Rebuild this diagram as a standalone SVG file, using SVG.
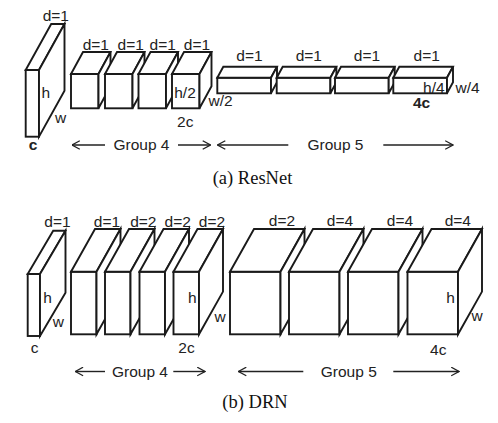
<svg xmlns="http://www.w3.org/2000/svg" width="498" height="423" viewBox="0 0 498 423">
<defs>
<style>
.bx{fill:#fff;stroke:#1a1a1a;stroke-width:1.9;stroke-linejoin:miter}
.t{font-family:"Liberation Sans",Arial,sans-serif;font-size:15.5px;fill:#222;text-anchor:middle}
.b{font-weight:bold}
.cap{font-family:"Liberation Serif","Times New Roman",serif;font-size:18.5px;fill:#111;text-anchor:middle}
.ar{stroke:#222;stroke-width:1.4;fill:none}
</style>
<marker id="ah" viewBox="0 0 9 10" refX="8.5" refY="5" markerWidth="9" markerHeight="10" markerUnits="userSpaceOnUse" orient="auto-start-reverse">
<path d="M0.7,0.7 L8.5,5 L0.7,9.3" fill="none" stroke="#222" stroke-width="1.3"/>
</marker>
</defs>
<rect width="498" height="423" fill="#fff"/>

<!-- ResNet -->
<g id="resnet-input">
<rect class="bx" x="25.7" y="70" width="13.3" height="66.7"/>
<path class="bx" d="M25.7,70 L51.2,24 L64.5,24 L39,70 Z"/>
<path class="bx" d="M39,70 L64.5,24 L64.5,90.7 L39,136.7 Z"/>
<text class="t" x="55.8" y="20.5">d=1</text>
<text class="t" x="45.8" y="98">h</text>
<text class="t" x="60.5" y="122.7">w</text>
<text class="t b" x="33" y="150">c</text>
</g>
<g id="resnet-g4-1">
<rect class="bx" x="71" y="74" width="27.5" height="34.3"/>
<path class="bx" d="M71,74 L83,52 L110.5,52 L98.5,74 Z"/>
<path class="bx" d="M98.5,74 L110.5,52 L110.5,86.3 L98.5,108.3 Z"/>
<text class="t" x="95.8" y="50">d=1</text>
</g>
<g id="resnet-g4-2">
<rect class="bx" x="105" y="74" width="27.5" height="34.3"/>
<path class="bx" d="M105,74 L117,52 L144.5,52 L132.5,74 Z"/>
<path class="bx" d="M132.5,74 L144.5,52 L144.5,86.3 L132.5,108.3 Z"/>
<text class="t" x="130.7" y="50">d=1</text>
</g>
<g id="resnet-g4-3">
<rect class="bx" x="138.5" y="74" width="27.5" height="34.3"/>
<path class="bx" d="M138.5,74 L150.5,52 L178,52 L166,74 Z"/>
<path class="bx" d="M166,74 L178,52 L178,86.3 L166,108.3 Z"/>
<text class="t" x="162.7" y="50">d=1</text>
</g>
<g id="resnet-g4-4">
<rect class="bx" x="172" y="74" width="27.5" height="34.3"/>
<path class="bx" d="M172,74 L184,52 L211.5,52 L199.5,74 Z"/>
<path class="bx" d="M199.5,74 L211.5,52 L211.5,86.3 L199.5,108.3 Z"/>
<text class="t" x="197" y="50">d=1</text>
<text class="t" x="185" y="97.5">h/2</text>
<text class="t" x="220.5" y="106">w/2</text>
<text class="t" x="185.3" y="126.7">2c</text>
</g>
<g id="resnet-g5-1">
<rect class="bx" x="217.3" y="77.7" width="53.7" height="15.6"/>
<path class="bx" d="M217.3,77.7 L223.3,66.7 L277,66.7 L271,77.7 Z"/>
<path class="bx" d="M271,77.7 L277,66.7 L277,82.3 L271,93.3 Z"/>
<text class="t" x="249.5" y="60.7">d=1</text>
</g>
<g id="resnet-g5-2">
<rect class="bx" x="276.7" y="77.7" width="53.7" height="15.6"/>
<path class="bx" d="M276.7,77.7 L282.7,66.7 L336.4,66.7 L330.4,77.7 Z"/>
<path class="bx" d="M330.4,77.7 L336.4,66.7 L336.4,82.3 L330.4,93.3 Z"/>
<text class="t" x="308.8" y="60.7">d=1</text>
</g>
<g id="resnet-g5-3">
<rect class="bx" x="335" y="77.7" width="53.7" height="15.6"/>
<path class="bx" d="M335,77.7 L341,66.7 L394.7,66.7 L388.7,77.7 Z"/>
<path class="bx" d="M388.7,77.7 L394.7,66.7 L394.7,82.3 L388.7,93.3 Z"/>
<text class="t" x="367" y="60.7">d=1</text>
</g>
<g id="resnet-g5-4">
<rect class="bx" x="393.3" y="77.7" width="53.7" height="15.6"/>
<path class="bx" d="M393.3,77.7 L399.3,66.7 L453,66.7 L447,77.7 Z"/>
<path class="bx" d="M447,77.7 L453,66.7 L453,82.3 L447,93.3 Z"/>
<text class="t" x="426.7" y="60.7">d=1</text>
<text class="t" x="433.8" y="93.3">h/4</text>
<text class="t" x="467.5" y="93.3">w/4</text>
<text class="t b" x="421.5" y="108">4c</text>
</g>
<text class="t" x="141.5" y="149.5">Group 4</text>
<text class="t" x="335.5" y="150">Group 5</text>
<text class="cap" x="252.5" y="183.5">(a) ResNet</text>

<!-- DRN -->
<g id="drn-input">
<rect class="bx" x="27.7" y="274" width="12.3" height="62"/>
<path class="bx" d="M27.7,274 L53.2,230.7 L65.5,230.7 L40,274 Z"/>
<path class="bx" d="M40,274 L65.5,230.7 L65.5,292.7 L40,336 Z"/>
<text class="t" x="57.5" y="226.7">d=1</text>
<text class="t" x="47.5" y="303.3">h</text>
<text class="t" x="58.3" y="326.7">w</text>
<text class="t" x="34.5" y="352.7">c</text>
</g>
<g id="drn-g4-1">
<rect class="bx" x="71" y="271.7" width="25.5" height="62.6"/>
<path class="bx" d="M71,271.7 L95,229 L120.5,229 L96.5,271.7 Z"/>
<path class="bx" d="M96.5,271.7 L120.5,229 L120.5,291.6 L96.5,334.3 Z"/>
<text class="t" x="107" y="226.7">d=1</text>
</g>
<g id="drn-g4-2">
<rect class="bx" x="105" y="271.7" width="25.5" height="62.6"/>
<path class="bx" d="M105,271.7 L129,229 L154.5,229 L130.5,271.7 Z"/>
<path class="bx" d="M130.5,271.7 L154.5,229 L154.5,291.6 L130.5,334.3 Z"/>
<text class="t" x="143.3" y="226.7">d=2</text>
</g>
<g id="drn-g4-3">
<rect class="bx" x="139.5" y="271.7" width="25.5" height="62.6"/>
<path class="bx" d="M139.5,271.7 L163.5,229 L189,229 L165,271.7 Z"/>
<path class="bx" d="M165,271.7 L189,229 L189,291.6 L165,334.3 Z"/>
<text class="t" x="177.7" y="226.7">d=2</text>
</g>
<g id="drn-g4-4">
<rect class="bx" x="173.5" y="271.7" width="25.5" height="62.6"/>
<path class="bx" d="M173.5,271.7 L197.5,229 L223,229 L199,271.7 Z"/>
<path class="bx" d="M199,271.7 L223,229 L223,291.6 L199,334.3 Z"/>
<text class="t" x="212" y="226.7">d=2</text>
<text class="t" x="192.3" y="303">h</text>
<text class="t" x="220" y="321.7">w</text>
<text class="t" x="186.5" y="352.7">2c</text>
</g>
<g id="drn-g5-1">
<rect class="bx" x="230" y="271.7" width="50.5" height="62.6"/>
<path class="bx" d="M230,271.7 L254,229 L304.5,229 L280.5,271.7 Z"/>
<path class="bx" d="M280.5,271.7 L304.5,229 L304.5,291.6 L280.5,334.3 Z"/>
<text class="t" x="282" y="225.7">d=2</text>
</g>
<g id="drn-g5-2">
<rect class="bx" x="289" y="271.7" width="50.5" height="62.6"/>
<path class="bx" d="M289,271.7 L313,229 L363.5,229 L339.5,271.7 Z"/>
<path class="bx" d="M339.5,271.7 L363.5,229 L363.5,291.6 L339.5,334.3 Z"/>
<text class="t" x="340" y="225.7">d=4</text>
</g>
<g id="drn-g5-3">
<rect class="bx" x="348" y="271.7" width="50.5" height="62.6"/>
<path class="bx" d="M348,271.7 L372,229 L422.5,229 L398.5,271.7 Z"/>
<path class="bx" d="M398.5,271.7 L422.5,229 L422.5,291.6 L398.5,334.3 Z"/>
<text class="t" x="400" y="225.7">d=4</text>
</g>
<g id="drn-g5-4">
<rect class="bx" x="407.5" y="271.7" width="50.5" height="62.6"/>
<path class="bx" d="M407.5,271.7 L431.5,229 L482,229 L458,271.7 Z"/>
<path class="bx" d="M458,271.7 L482,229 L482,291.6 L458,334.3 Z"/>
<text class="t" x="457.8" y="225.7">d=4</text>
<text class="t" x="450.5" y="303.3">h</text>
<text class="t" x="477" y="321">w</text>
<text class="t" x="438.3" y="355">4c</text>
</g>
<text class="t" x="140" y="376.7">Group 4</text>
<text class="t" x="348.8" y="376.7">Group 5</text>
<text class="cap" x="255" y="408">(b) DRN</text>

<g id="connectors">
<line class="ar" x1="105" y1="145" x2="72" y2="145" marker-end="url(#ah)"/>
<line class="ar" x1="178" y1="145" x2="210.5" y2="145" marker-end="url(#ah)"/>
<line class="ar" x1="288.3" y1="145" x2="217.5" y2="145" marker-end="url(#ah)"/>
<line class="ar" x1="383.3" y1="145" x2="453" y2="145" marker-end="url(#ah)"/>
<line class="ar" x1="105" y1="371.5" x2="75.3" y2="371.5" marker-end="url(#ah)"/>
<line class="ar" x1="173.3" y1="371.5" x2="205" y2="371.5" marker-end="url(#ah)"/>
<line class="ar" x1="303.3" y1="371.5" x2="238.5" y2="371.5" marker-end="url(#ah)"/>
<line class="ar" x1="393.3" y1="371.5" x2="459" y2="371.5" marker-end="url(#ah)"/>
</g>
</svg>
